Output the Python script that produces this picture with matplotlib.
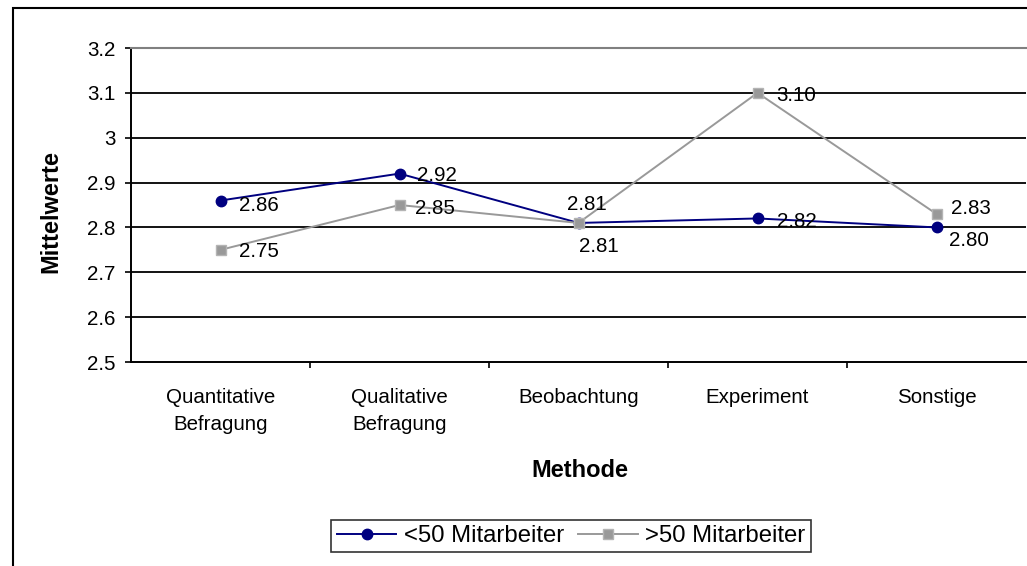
import matplotlib
matplotlib.use("Agg")
import matplotlib.pyplot as plt
from matplotlib.patches import Rectangle

plt.rcParams['font.family'] = ['Liberation Sans', 'DejaVu Sans']

categories = ["Quantitative\nBefragung", "Qualitative\nBefragung", "Beobachtung",
              "Experiment", "Sonstige"]
small_firms = [2.86, 2.92, 2.81, 2.82, 2.80]
large_firms = [2.75, 2.85, 2.81, 3.10, 2.83]
series_names = ["<50 Mitarbeiter", ">50 Mitarbeiter"]
y_ticks = [2.5, 2.6, 2.7, 2.8, 2.9, 3.0, 3.1, 3.2]
y_tick_labels = ["2.5", "2.6", "2.7", "2.8", "2.9", "3", "3.1", "3.2"]

W, H = 1027, 566
fig = plt.figure(figsize=(W / 100, H / 100), dpi=100)

# plot area in pixel terms
x0, x1, y_top, y_bot = 131, 1026, 48, 362
ax = fig.add_axes([x0 / W, 1 - y_bot / H, (x1 - x0) / W, (y_bot - y_top) / H])

navy = "#000080"
grey = "#999999"
xs = list(range(len(categories)))

ax.plot(xs, small_firms, color=navy, lw=1.4, marker="o", ms=7.5,
        mfc=navy, mec=navy, zorder=4, label=series_names[0])
ax.plot(xs, large_firms, color=grey, lw=1.4, marker="s", ms=6.5,
        mfc="#999999", mec="#b4b4b4", mew=1.0, zorder=5, label=series_names[1])

ax.set_xlim(-0.5, len(categories) - 0.5)
ax.set_ylim(2.5, 3.2)

# horizontal gridlines
for v in y_ticks[1:-1]:
    ax.axhline(v, color="black", lw=1.3, zorder=1)

ax.spines["top"].set_color("#808080")
ax.spines["top"].set_linewidth(1.5)
ax.spines["right"].set_visible(False)
for s in ("left", "bottom"):
    ax.spines[s].set_color("black")
    ax.spines[s].set_linewidth(1.4)

fs = 14.8
ax.set_yticks(y_ticks)
ax.set_yticklabels(y_tick_labels, fontsize=fs)
ax.tick_params(axis="y", direction="out", length=4.5, width=1.2, pad=6.5)

ax.set_xticks(xs)
ax.set_xticklabels(categories, fontsize=fs, linespacing=1.5)
ax.tick_params(axis="x", which="major", length=0, pad=19)
ax.set_xticks([i + 0.5 for i in xs[:-1]], minor=True)
ax.tick_params(axis="x", which="minor", direction="out", length=4.5, width=1.2)

ax.set_ylabel("Mittelwerte", fontsize=17, fontweight="bold")
ax.yaxis.set_label_coords(-0.077, 0.48)
ax.set_xlabel("Methode", fontsize=17, fontweight="bold", va="center")
ax.xaxis.set_label_coords(0.502, -0.344)

# value labels, offsets in pixels (dx right, dy down)
small_offsets = [(18, 5, "left"), (18, 2, "left"), (8, -18, "center"),
                 (19, 3, "left"), (12, 13, "left")]
large_offsets = [(18, 2, "left"), (16, 4, "left"), (20, 24, "center"),
                 (19, 3, "left"), (14, -5, "left")]
for vals, offs in ((small_firms, small_offsets), (large_firms, large_offsets)):
    for x, v, (dx, dy, ha) in zip(xs, vals, offs):
        ax.annotate(f"{v:.2f}", (x, v), xytext=(dx * 0.72, -dy * 0.72),
                    textcoords="offset points", ha=ha, va="center",
                    fontsize=fs, zorder=6)

leg = fig.legend(loc="center", bbox_to_anchor=(571 / W, 1 - 536 / H),
                 ncol=2, fontsize=17.2, frameon=True, fancybox=False,
                 handlelength=2.5, handletextpad=0.3, columnspacing=0.6,
                 borderpad=0.22, borderaxespad=0)
leg.get_frame().set_edgecolor("black")
leg.get_frame().set_linewidth(1.2)

# outer chart border
fig.patches.append(Rectangle((13 / W, -0.1), 1.2, 1.1 - 8 / H,
                             transform=fig.transFigure, fill=False,
                             ec="black", lw=1.5))

fig.savefig("out.png", dpi=100)
